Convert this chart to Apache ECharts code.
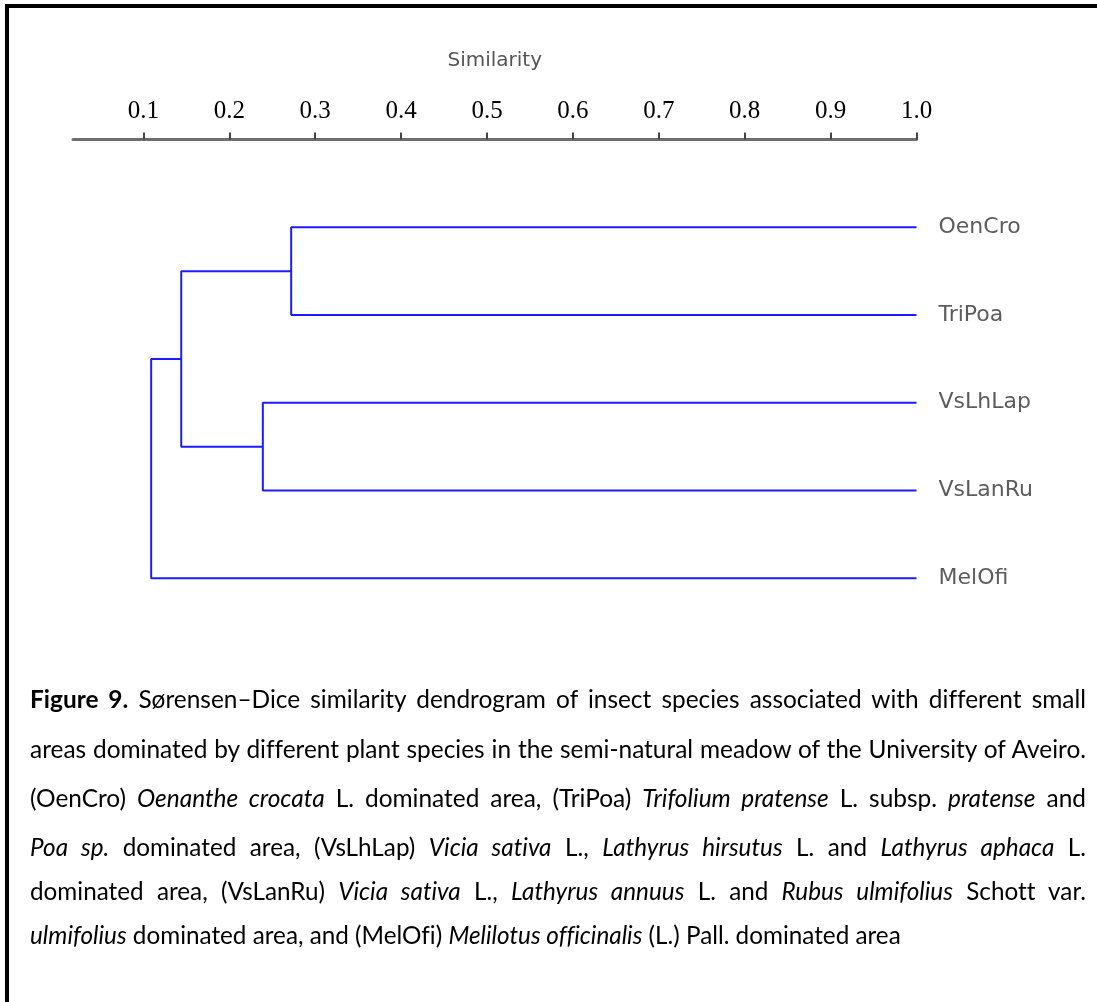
<!DOCTYPE html>
<html>
<head>
<meta charset="utf-8">
<script src="https://cdn.jsdelivr.net/npm/echarts/dist/echarts.min.js"></script>
<style>
  html, body { margin: 0; padding: 0; background: #fff; }
  #wrap { position: relative; width: 1097px; height: 1002px; overflow: hidden; background: #fff; }
  #chart { position: absolute; left: 0; top: 0; width: 1097px; height: 1002px; }
  #frame { position: absolute; left: 5px; top: 4px; width: 1200px; height: 1100px;
           border-top: 4px solid #000; border-left: 4px solid #000; pointer-events: none; }
  .cap { position: absolute; left: 30px; width: 1056px; font-family: Lato, "Open Sans", sans-serif;
         color: #000; white-space: nowrap; font-variant-ligatures: none; font-size: 23px;
         line-height: 30px; height: 30px; text-align: left; }
  .cap.j { text-align: justify; text-align-last: justify; }
  #low { position: absolute; left: 30px; top: 0; transform-origin: 0 0; }
  #low .cap { left: 0; font-size: 25px; }
</style>
</head>
<body>
<div id="wrap">
  <div id="chart"></div>
  <div id="frame"></div>
  <div class="cap t" style="top:684px"><span><b>Figure 9.</b> Sørensen–Dice similarity dendrogram of insect species associated with different small</span></div>
  <div class="cap t" style="top:734px"><span>areas dominated by different plant species in the semi-natural meadow of the University of Aveiro.</span></div>
  <div class="cap t" style="top:783px"><span>(OenCro) <i>Oenanthe crocata</i> L. dominated area, (TriPoa) <i>Trifolium pratense</i> L. subsp. <i>pratense</i> and</span></div>
  <div id="low">
    <div class="cap l" style="top:831px"><span><i>Poa sp.</i> dominated area, (VsLhLap) <i>Vicia sativa</i> L., <i>Lathyrus hirsutus</i> L. and <i>Lathyrus aphaca</i> L.</span></div>
    <div class="cap l" style="top:875px"><span>dominated area, (VsLanRu) <i>Vicia sativa</i> L., <i>Lathyrus annuus</i> L. and <i>Rubus ulmifolius</i> Schott var.</span></div>
    <div class="cap" style="top:919px"><span><i>ulmifolius</i> dominated area, and (MelOfi) <i>Melilotus officinalis</i> (L.) Pall. dominated area</span></div>
  </div>
</div>
<script>
// ---- data ----
const leaves = ['OenCro', 'TriPoa', 'VsLhLap', 'VsLanRu', 'MelOfi'];
const leafSimilarity = 1.0;
// merges (node ids: leaves 0..4, merged clusters 5,6,7,...)
const mergeLeft = [0, 2, 5, 7];
const mergeRight = [1, 3, 6, 4];
const mergeSimilarity = [0.272, 0.239, 0.144, 0.109];
const tickValues = [0.1, 0.2, 0.3, 0.4, 0.5, 0.6, 0.7, 0.8, 0.9, 1.0];
const tickLabels = ['0.1', '0.2', '0.3', '0.4', '0.5', '0.6', '0.7', '0.8', '0.9', '1.0'];
const axisName = 'Similarity';

// ---- build dendrogram paths ----
const nodes = leaves.map((n, i) => ({ x: leafSimilarity, y: i }));
const paths = [];
mergeSimilarity.forEach((h, k) => {
  const a = nodes[mergeLeft[k]], b = nodes[mergeRight[k]];
  paths.push([[a.x, a.y], [h, a.y], [h, b.y], [b.x, b.y]]);
  nodes.push({ x: h, y: (a.y + b.y) / 2 });
});

const blue = '#1c1cff';
const series = paths.map(p => ({
  type: 'line', data: p, symbol: 'none', silent: true, animation: false,
  lineStyle: { color: blue, width: 2 }
}));
series.push({
  type: 'scatter', symbolSize: 0, silent: true, animation: false,
  data: leaves.map((n, i) => [leafSimilarity, i, n]),
  label: {
    show: true, position: 'right', distance: 22,
    formatter: p => p.data[2],
    fontFamily: 'DejaVu Sans', fontSize: 22, color: '#333'
  }
});

const chart = echarts.init(document.getElementById('chart'), null, { renderer: 'canvas' });
chart.setOption({
  animation: false,
  backgroundColor: 'transparent',
  grid: { left: 73, top: 139.5, width: 843.5, height: 526.5, containLabel: false },
  xAxis: {
    type: 'value', position: 'top', min: 0.018, max: 1.0,
    name: axisName, nameLocation: 'middle', nameGap: 69,
    nameTextStyle: { fontFamily: 'DejaVu Sans', fontSize: 20, color: '#555' },
    axisLine: { show: true, onZero: false, lineStyle: { color: '#6e6e6e', width: 3 } },
    axisTick: { show: true, customValues: tickValues, length: 7, lineStyle: { color: '#444', width: 2 } },
    axisLabel: {
      customValues: tickValues, margin: 16,
      fontFamily: 'Liberation Serif', fontSize: 25, color: '#000',
      formatter: v => {
        const i = tickValues.findIndex(t => Math.abs(t - v) < 1e-9);
        return i >= 0 ? tickLabels[i] : '';
      }
    },
    splitLine: { show: false }
  },
  yAxis: { type: 'value', inverse: true, min: -1, max: 5, show: false },
  series: series
});

// caption: fit natural widths to the justified column
function widthOf(div) { return div.firstElementChild.getBoundingClientRect().width; }
const tops = Array.from(document.querySelectorAll('.cap.t'));
const maxTop = Math.max(...tops.map(widthOf));
const fsTop = Math.min(26, 23 * 1048 / maxTop);
tops.forEach(d => { d.style.fontSize = fsTop + 'px'; d.classList.add('j'); });

const low = document.getElementById('low');
const lows = Array.from(low.querySelectorAll('.cap.l'));
const maxLow = Math.max(...lows.map(widthOf));
const s = 0.92 * 1048 / maxLow;
low.style.transform = 'scaleX(' + s + ')';
low.querySelectorAll('.cap').forEach(d => { d.style.width = (1056 / s) + 'px'; });
lows.forEach(d => d.classList.add('j'));
</script>
</body>
</html>
